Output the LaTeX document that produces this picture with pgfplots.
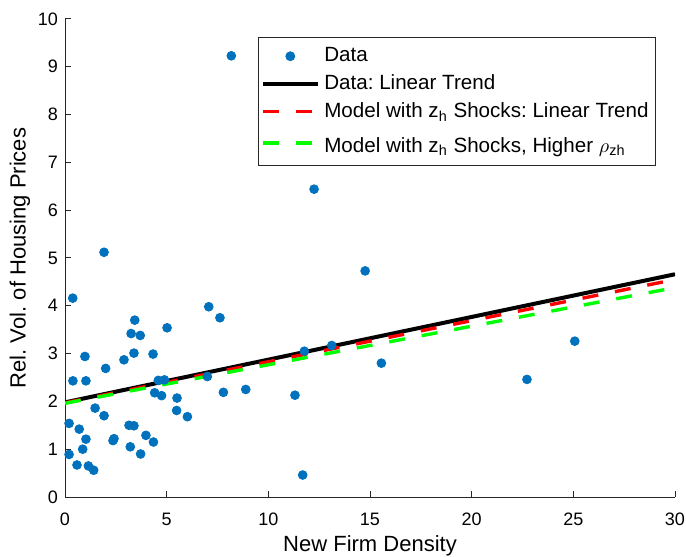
\documentclass[border=0pt]{standalone}
\usepackage{pgfplots}
\pgfplotsset{compat=1.18}
\usepackage{fontspec}
\setmainfont{Liberation Sans}
\definecolor{mblue}{rgb}{0,0.447,0.741}
\definecolor{axgray}{rgb}{0.15,0.15,0.15}
\definecolor{mgreen}{rgb}{0,1,0}
\pgfplotsset{
  linelegend/.style={legend image code/.code={\draw[##1] (0pt,0pt) -- (27.5pt,0pt);}},
  marklegend/.style={legend image code/.code={\draw[##1] plot coordinates {(13.5pt,0pt)};}},
}
\frenchspacing
\begin{document}
\begin{tikzpicture}
\begin{axis}[
  name=ax,
  scale only axis,
  width=305pt, height=239pt,
  xmin=0, xmax=30, ymin=0, ymax=10,
  xtick={0,5,...,30}, ytick={0,1,...,10},
  axis x line*=bottom, axis y line*=left,
  axis line style={axgray, line width=0.5pt, -},
  tick style={axgray, line width=0.5pt},
  major tick length=3pt,
  tick align=inside,
  tick label style={font=\fontsize{9}{11}\selectfont, text=black},
  x tick label style={anchor=north, yshift=-4.5pt},
  /pgf/number format/assume math mode=true,
  xlabel={New Firm Density},
  ylabel={Rel. Vol. of Housing Prices},
  label style={font=\fontsize{11}{13}\selectfont},
  x label style={at={(axis description cs:0.5,0)}, anchor=base, yshift=-27pt},
  y label style={at={(axis description cs:-0.0738,0.5)}, anchor=center},
  legend cell align=left,
  legend style={at={(0.969,0.962)}, anchor=north east, draw=axgray, line width=0.5pt,
    font=\fontsize{10.3}{12}\selectfont\frenchspacing, row sep=1pt, inner xsep=1.5pt, inner ysep=3pt},
]
\addplot[only marks, mark=*, mark size=2.2pt, mblue, mark options={draw=mblue, fill=mblue}, marklegend]
coordinates {
(1.92,5.12) (0.38,4.16) (7.07,3.98) (3.43,3.70) (3.25,3.42) (3.70,3.38) (5.02,3.54)
(0.98,2.94) (3.39,3.01) (4.33,2.99) (2.90,2.87) (2.00,2.69) (0.39,2.43) (1.03,2.43)
(4.59,2.44) (4.89,2.45) (4.41,2.18) (4.75,2.12) (5.51,2.07) (1.48,1.86) (1.92,1.70)
(5.49,1.81) (6.02,1.68) (0.20,1.54) (0.70,1.42) (1.03,1.21) (3.15,1.50) (3.39,1.49)
(2.36,1.18) (2.41,1.22) (3.98,1.29) (4.35,1.15) (0.87,1.00) (3.21,1.05) (3.72,0.90)
(0.20,0.89) (0.59,0.67) (1.15,0.65) (1.41,0.56) (7.00,2.52)
(8.18,9.23) (12.25,6.44) (14.76,4.73) (7.62,3.75) (11.77,3.05) (13.12,3.17)
(15.56,2.80) (7.79,2.19) (8.89,2.25) (11.31,2.13) (11.69,0.46)
(22.72,2.46) (25.07,3.26)
};
\addlegendentry{Data}
\addplot[black, line width=2pt, linelegend]
coordinates {(0,1.98) (30,4.66)};
\addlegendentry{Data:\ Linear Trend}
\addplot[red, line width=1.7pt, dash pattern=on 8pt off 8.5pt, linelegend]
coordinates {(0,1.97) (30,4.55)};
\addlegendentry{Model with z\textsubscript{h} Shocks:\ Linear Trend}
\addplot[mgreen, line width=1.7pt, dash pattern=on 8pt off 8.5pt, linelegend]
coordinates {(0,1.96) (30,4.38)};
\addlegendentry{\rule{0pt}{10.8pt}Model with z\textsubscript{h} Shocks, Higher $\rho$\textsubscript{zh}}
\end{axis}
\pgfresetboundingbox
\path ([xshift=-32.5pt,yshift=-30pt]ax.south west) rectangle ([xshift=5.5pt,yshift=9.5pt]ax.north east);
\end{tikzpicture}
\end{document}
